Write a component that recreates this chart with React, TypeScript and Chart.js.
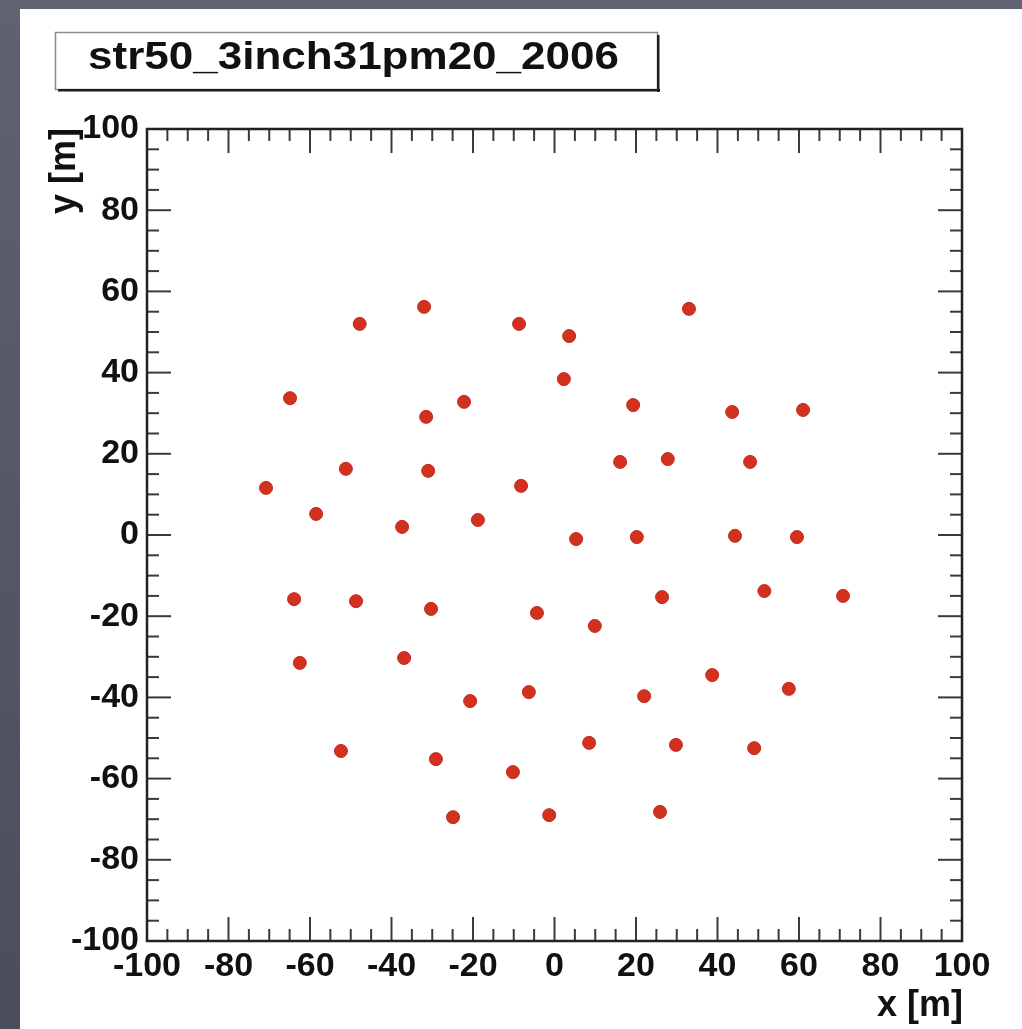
import React, { useEffect, useRef } from 'react';
import { Chart, registerables } from 'chart.js';

Chart.register(...registerables);

const TITLE = 'str50_3inch31pm20_2006';
const X_TITLE = 'x [m]';
const Y_TITLE = 'y [m]';

const xValues = [
  -70.8, -64.9, -58.5, -63.9, -62.5, -51.2, -47.8, -48.7, -52.4, -37.4,
  -36.9, -32.0, -31.5, -31.0, -30.3, -29.1, -22.2, -18.8, -20.7, -24.9,
  -8.7, -8.2, -6.3, -4.3, -10.2, -1.3, 3.6, 2.3, 5.3, 9.9,
  8.5, 16.1, 19.3, 20.2, 26.4, 27.8, 22.0, 29.8, 25.9, 33.0,
  43.6, 44.3, 48.0, 38.7, 51.5, 49.0, 61.0, 59.5, 57.5, 70.8,
];
const yValues = [
  11.6, 33.7, 5.2, -15.8, -31.5, 16.3, 52.0, -16.3, -53.2, 2.0,
  -30.3, 56.2, 29.1, 15.8, -18.2, -55.2, 32.8, 3.7, -40.9, -69.5,
  52.0, 12.1, -38.7, -19.2, -58.4, -69.0, 49.0, 38.4, -1.0, -22.4,
  -51.2, 18.0, 32.0, -0.5, -15.3, 18.7, -39.7, -51.7, -68.2, 55.7,
  30.3, -0.2, 18.0, -34.5, -13.8, -52.5, 30.8, -0.5, -37.9, -15.0,
];

const xTicks = [-100, -80, -60, -40, -20, 0, 20, 40, 60, 80, 100];
const yTicks = [-100, -80, -60, -40, -20, 0, 20, 40, 60, 80, 100];
const AXIS_MIN = -100;
const AXIS_MAX = 100;
const MINOR_STEP = 5;

const FONT = "'Liberation Sans', Arial, Helvetica, sans-serif";

const decor = {
  id: 'decor',
  beforeDraw(chart: any) {
    const { ctx, width, height } = chart;
    ctx.save();
    const g = ctx.createLinearGradient(0, 0, 0, height);
    g.addColorStop(0, '#5e6271');
    g.addColorStop(1, '#4a4d5a');
    ctx.fillStyle = g;
    ctx.fillRect(0, 0, width, height);
    ctx.fillStyle = '#ffffff';
    ctx.fillRect(20, 9, width - 20, height - 9);

    // title box
    const bx = 55, by = 32, bw = 602, bh = 57;
    ctx.fillStyle = '#ffffff';
    ctx.fillRect(bx, by, bw, bh);
    ctx.strokeStyle = '#8c8c8c';
    ctx.lineWidth = 1.5;
    ctx.strokeRect(bx + 0.5, by + 0.5, bw, bh);
    ctx.fillStyle = '#1e1e1e';
    ctx.fillRect(bx + 3, by + bh, bw, 2.5);
    ctx.fillRect(bx + bw, by + 3, 2.5, bh);

    ctx.font = `bold 39px ${FONT}`;
    const w = ctx.measureText(TITLE).width;
    ctx.translate(88, 69);
    ctx.scale(531 / w, 1);
    ctx.fillStyle = '#111111';
    ctx.textAlign = 'left';
    ctx.textBaseline = 'alphabetic';
    ctx.fillText(TITLE, 0, 0);
    ctx.restore();
  },
  beforeDatasetsDraw(chart: any) {
    const { ctx } = chart;
    const { left, right, top, bottom } = chart.chartArea;
    const sx = chart.scales.x;
    const sy = chart.scales.y;
    ctx.save();
    ctx.strokeStyle = '#3a3a3a';
    ctx.lineWidth = 2;
    const line = (x1: number, y1: number, x2: number, y2: number) => {
      ctx.beginPath();
      ctx.moveTo(x1, y1);
      ctx.lineTo(x2, y2);
      ctx.stroke();
    };
    for (let v = AXIS_MIN + MINOR_STEP; v < AXIS_MAX; v += MINOR_STEP) {
      const majorX = xTicks.includes(v);
      const lx = majorX ? 24 : 12;
      const px = sx.getPixelForValue(v);
      line(px, bottom, px, bottom - lx);
      line(px, top, px, top + lx);
      const majorY = yTicks.includes(v);
      const ly = majorY ? 24 : 12;
      const py = sy.getPixelForValue(v);
      line(left, py, left + ly, py);
      line(right, py, right - ly, py);
    }
    ctx.strokeStyle = '#222222';
    ctx.lineWidth = 2.5;
    ctx.strokeRect(left, top, right - left, bottom - top);

    ctx.fillStyle = '#111111';
    ctx.font = `bold 36px ${FONT}`;
    ctx.textAlign = 'right';
    ctx.textBaseline = 'alphabetic';
    ctx.fillText(X_TITLE, right + 1, 1016);
    ctx.translate(75, top - 1);
    ctx.rotate(-Math.PI / 2);
    ctx.fillText(Y_TITLE, 0, 0);
    ctx.restore();
  },
};

export default function App() {
  const ref = useRef<HTMLCanvasElement>(null);
  useEffect(() => {
    if (!ref.current) return;
    const tickFont = { family: FONT, size: 34, weight: 'bold' as const };
    const chart = new Chart(ref.current, {
      type: 'scatter',
      data: {
        datasets: [
          {
            data: xValues.map((x, i) => ({ x, y: yValues[i] })),
            backgroundColor: '#d3311f',
            borderColor: '#c62a1a',
            borderWidth: 1,
            pointRadius: 6.5,
            pointHoverRadius: 6.5,
          },
        ],
      },
      options: {
        animation: false,
        responsive: false,
        maintainAspectRatio: false,
        layout: { padding: { top: 129, right: 60, left: 0, bottom: 0 } },
        plugins: { legend: { display: false }, tooltip: { enabled: false }, title: { display: false } },
        scales: {
          x: {
            type: 'linear',
            position: 'bottom',
            min: AXIS_MIN,
            max: AXIS_MAX,
            afterBuildTicks: (s: any) => {
              s.ticks = xTicks.map((v) => ({ value: v }));
            },
            afterFit: (s: any) => {
              s.height = 88;
            },
            grid: { display: false, drawTicks: false },
            border: { display: false },
            ticks: { font: tickFont, color: '#111111', padding: 5, maxRotation: 0, autoSkip: false },
          },
          y: {
            type: 'linear',
            position: 'left',
            min: AXIS_MIN,
            max: AXIS_MAX,
            afterBuildTicks: (s: any) => {
              s.ticks = yTicks.map((v) => ({ value: v }));
            },
            afterFit: (s: any) => {
              s.width = 147;
            },
            grid: { display: false, drawTicks: false },
            border: { display: false },
            ticks: { font: tickFont, color: '#111111', padding: 8, autoSkip: false },
          },
        },
      },
      plugins: [decor],
    });
    return () => chart.destroy();
  }, []);
  return (
    <div style={{ position: 'absolute', left: 0, top: 0, width: 1022, height: 1029 }}>
      <canvas ref={ref} width={1022} height={1029} style={{ display: 'block', width: 1022, height: 1029 }} />
    </div>
  );
}
